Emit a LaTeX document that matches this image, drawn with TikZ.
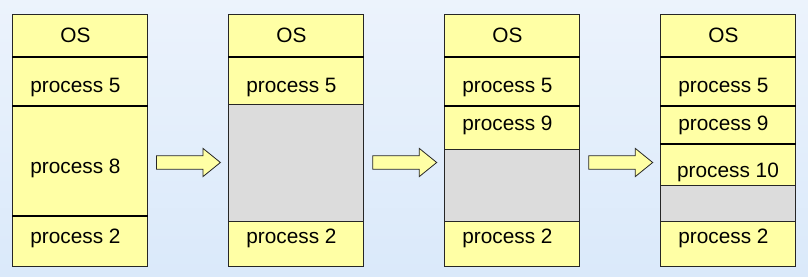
\documentclass[tikz,border=0pt]{standalone}
\usepackage{fontspec}
\setmainfont{Liberation Sans}
\usetikzlibrary{positioning, shapes.arrows}
\definecolor{cMem}{RGB}{255,255,165}
\definecolor{cHole}{RGB}{220,220,220}
\definecolor{cBgTop}{RGB}{236,243,252}
\definecolor{cBgBot}{RGB}{218,233,250}
\tikzset{
    memcell/.style   ={rectangle, draw=black!85, line width=0.6pt, fill=cMem, minimum width=101.6pt, inner sep=0pt, outer sep=0pt, text centered},
    memtext/.style   ={memcell, execute at end node={\hspace{6.75pt}}},
    hole/.style      ={memcell, fill=cHole},
    divider/.style   ={line width=1.5pt, black},
    blockarrow/.style={single arrow, draw=black!85, line width=0.6pt, fill=cMem, minimum height=48pt, minimum width=20.6pt, single arrow head extend=5.55pt, single arrow tip angle=78, inner xsep=0pt, inner ysep=4.75pt, anchor=tail},
}

\begin{document}
\begin{tikzpicture}[x=0.75pt, y=-0.75pt, every node/.style={font=\fontsize{15.6}{18}\selectfont}, node distance=0pt]
    \fill[top color=cBgTop, bottom color=cBgBot] (0,0) rectangle (808,277);
    % before
    \node[memtext, minimum height=32.25pt, anchor=north] (os1) at (80,14) {OS};
    \node[memtext, minimum height=36.75pt, text height=19pt, below=of os1] (p5c1) {process 5};
    \node[memtext, minimum height=82.5pt, text height=21.5pt, below=of p5c1] (p8c1) {process 8};
    \node[memtext, minimum height=37.5pt, text depth=7.8pt, below=of p8c1] (p2c1) {process 2};
    % process 8 gone
    \node[memtext, minimum height=32.25pt, right=60.4pt of os1] (os2) {OS};
    \node[memtext, minimum height=35.25pt, text height=20.5pt, below=of os2] (p5c2) {process 5};
    \node[hole, minimum height=87.75pt, below=of p5c2] (hole2) {};
    \node[memtext, minimum height=33.75pt, text depth=11.5pt, below=of hole2] (p2c2) {process 2};
    % process 9 loaded
    \node[memtext, minimum height=32.25pt, right=60.4pt of os2] (os3) {OS};
    \node[memtext, minimum height=36.75pt, text height=19pt, below=of os3] (p5c3) {process 5};
    \node[memtext, minimum height=32.25pt, text depth=7pt, below=of p5c3] (p9c3) {process 9};
    \node[hole, minimum height=54pt, below=of p9c3] (hole3) {};
    \node[memtext, minimum height=33.75pt, text depth=11.5pt, below=of hole3] (p2c3) {process 2};
    % process 10 loaded
    \node[memtext, minimum height=32.25pt, right=60.4pt of os3] (os4) {OS};
    \node[memtext, minimum height=36.75pt, text height=19pt, below=of os4] (p5c4) {process 5};
    \node[memtext, minimum height=28.5pt, below=of p5c4] (p9c4) {process 9};
    \node[memcell, minimum height=30.75pt, text height=22pt, below=of p9c4] (p10c4) {process 10};
    \node[hole, minimum height=27pt, below=of p10c4] (hole4) {};
    \node[memtext, minimum height=33.75pt, text depth=11.5pt, below=of hole4] (p2c4) {process 2};
    % thick lines between occupied blocks
    \draw[divider] (os1.south west) -- (os1.south east);
    \draw[divider] (p5c1.south west) -- (p5c1.south east);
    \draw[divider] (p8c1.south west) -- (p8c1.south east);
    \draw[divider] (os2.south west) -- (os2.south east);
    \draw[divider] (os3.south west) -- (os3.south east);
    \draw[divider] (p5c3.south west) -- (p5c3.south east);
    \draw[divider] (os4.south west) -- (os4.south east);
    \draw[divider] (p5c4.south west) -- (p5c4.south east);
    \draw[divider] (p9c4.south west) -- (p9c4.south east);
    % steps
    \node[blockarrow] (step1) at (156,162.5) {};
    \node[blockarrow] (step2) at (372.3,162.5) {};
    \node[blockarrow] (step3) at (588.3,162.5) {};
\end{tikzpicture}
\end{document}
